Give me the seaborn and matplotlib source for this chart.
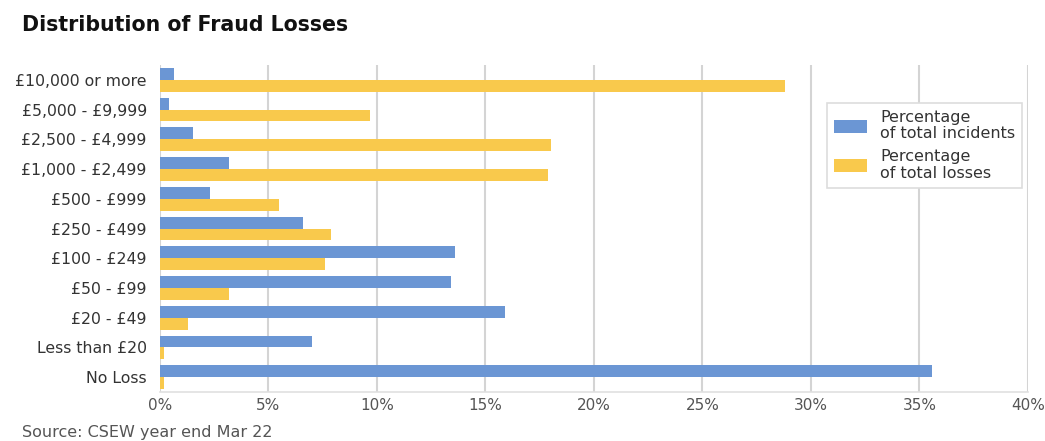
import pandas as pd
import numpy as np
import matplotlib.pyplot as plt
import seaborn as sns
from matplotlib.ticker import FixedLocator, PercentFormatter

# Data #######################################################################

bands = [
    "£10,000 or more", "£5,000 - £9,999", "£2,500 - £4,999", "£1,000 - £2,499",
    "£500 - £999", "£250 - £499", "£100 - £249", "£50 - £99", "£20 - £49",
    "Less than £20", "No Loss",
]
pct_incidents = [0.65, 0.4, 1.5, 3.2, 2.3, 6.6, 13.6, 13.4, 15.9, 7.0, 35.6]
pct_losses    = [28.8, 9.7, 18.0, 17.9, 5.5, 7.9, 7.6, 3.2, 1.3, 0.2, 0.2]

series_names = ["Percentage\nof total incidents", "Percentage\nof total losses"]
colors = ["#6b96d4", "#f9c94c"]

df = pd.concat([
    pd.DataFrame({"band": bands, "pct": pct_incidents, "series": series_names[0]}),
    pd.DataFrame({"band": bands, "pct": pct_losses, "series": series_names[1]}),
])

# Plot #######################################################################

sns.set_style("white")
plt.rcParams["font.family"] = ["DejaVu Sans"]

fig = plt.figure(figsize=(10.45, 4.41), dpi=100)
ax = fig.add_axes([0.1531, 0.111, 0.8306, 0.7416])

sns.barplot(data=df, y="band", x="pct", hue="series", order=bands,
            hue_order=series_names, palette=dict(zip(series_names, colors)),
            orient="h", width=0.8, saturation=1, linewidth=0, ax=ax)

ax.set_xlim(0, 40)
ax.set_ylim(10.5, -0.5)
ax.set_xticks(np.arange(0, 41, 5))
ax.xaxis.set_major_formatter(PercentFormatter(decimals=0))
ax.grid(axis="x", color="#d4d4d4", linewidth=1.5)
ax.set_axisbelow(True)
ax.set_xlabel("")
ax.set_ylabel("")

for side in ["top", "right", "left"]:
    ax.spines[side].set_visible(False)
ax.spines["bottom"].set_color("#e0e0e0")
ax.spines["bottom"].set_linewidth(1.2)

ax.tick_params(axis="x", length=0, pad=4, labelsize=11, labelcolor="#555555")
ax.tick_params(axis="y", which="major", length=0, pad=9.5, labelsize=11.3,
               labelcolor="#333333")
ax.yaxis.set_minor_locator(FixedLocator(np.arange(-0.5, 10.0, 1.0)))
ax.tick_params(axis="y", which="minor", length=16, width=1.2, color="#d4d4d4")

sns.move_legend(ax, loc="upper left", bbox_to_anchor=(0.768, 0.884), title=None,
                frameon=True, fancybox=False, fontsize=11.5, handlelength=2.1,
                handleheight=0.9, labelspacing=0.5, borderpad=0.45,
                borderaxespad=0, handletextpad=0.8, edgecolor="#dddddd",
                framealpha=1, labelcolor="#333333")
leg = ax.get_legend()
leg.get_frame().set_linewidth(1.2)
for t in leg.get_texts():
    t.set_linespacing(1.1)

fig.text(0.021, 0.93, "Distribution of Fraud Losses", fontsize=14.8,
         fontweight="bold", color="#111111")
fig.text(0.021, 0.009, "Source: CSEW year end Mar 22", fontsize=11.5,
         color="#555555")

fig.savefig("out.png", dpi=100)
